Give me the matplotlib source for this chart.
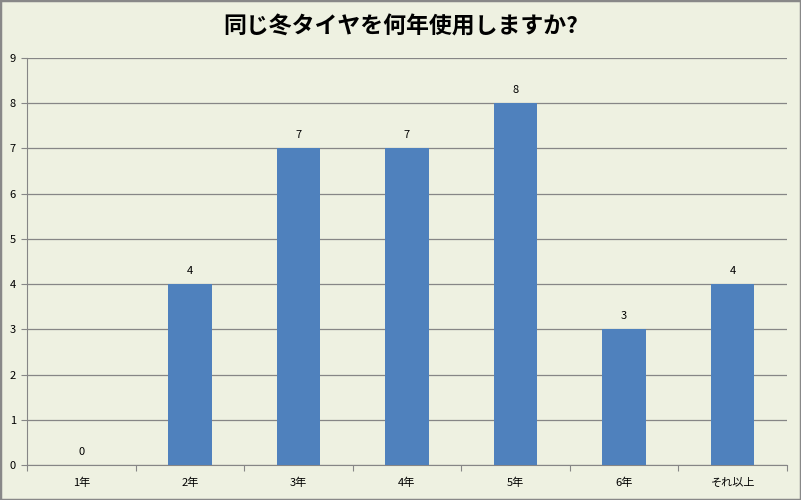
import matplotlib
matplotlib.use('Agg')
import matplotlib.pyplot as plt
from matplotlib.patches import Rectangle

plt.rcParams['font.family'] = ['Noto Sans CJK JP', 'DejaVu Sans']

categories = ['1年', '2年', '3年', '4年', '5年', '6年', 'それ以上']
counts = [0, 4, 7, 7, 8, 3, 4]
title = '同じ冬タイヤを何年使用しますか?'

bg = '#EEF1E1'
grid_col = '#868686'
bar_col = '#4F81BD'

fig = plt.figure(figsize=(8.01, 5.0), dpi=100, facecolor=bg)
ax = fig.add_axes([27 / 801, 35 / 500, 760 / 801, 407 / 500], facecolor=bg)

x = list(range(len(categories)))
ax.bar(x, counts, width=0.4, color=bar_col, zorder=3)
for xi, v in zip(x, counts):
    ax.text(xi, v + 0.18, str(v), ha='center', va='bottom', fontsize=8, zorder=4)

ax.set_xlim(-0.5, len(categories) - 0.5)
ax.set_ylim(0, 9)
ax.set_yticks(range(10))
ax.yaxis.grid(True, color=grid_col, linewidth=0.9, zorder=0)
ax.tick_params(axis='y', length=4, color=grid_col, labelsize=8, pad=4)

# x ticks between categories, labels at centres
ax.set_xticks([i - 0.5 for i in range(len(categories) + 1)])
ax.set_xticklabels([])
ax.set_xticks(x, minor=True)
ax.set_xticklabels(categories, minor=True, fontsize=8)
ax.tick_params(axis='x', which='major', length=4, color=grid_col)
ax.tick_params(axis='x', which='minor', length=0, pad=9)

for side in ['top', 'right']:
    ax.spines[side].set_visible(False)
for side in ['left', 'bottom']:
    ax.spines[side].set_color(grid_col)

fig.text(0.5, 1 - 27 / 500, title, ha='center', va='center',
         fontsize=16.5, fontweight='bold')

fig.patches.append(Rectangle((0, 0), 1, 1, transform=fig.transFigure,
                             fill=False, edgecolor='#888888', linewidth=2.5))

fig.savefig('out.png', dpi=100, facecolor=bg)
